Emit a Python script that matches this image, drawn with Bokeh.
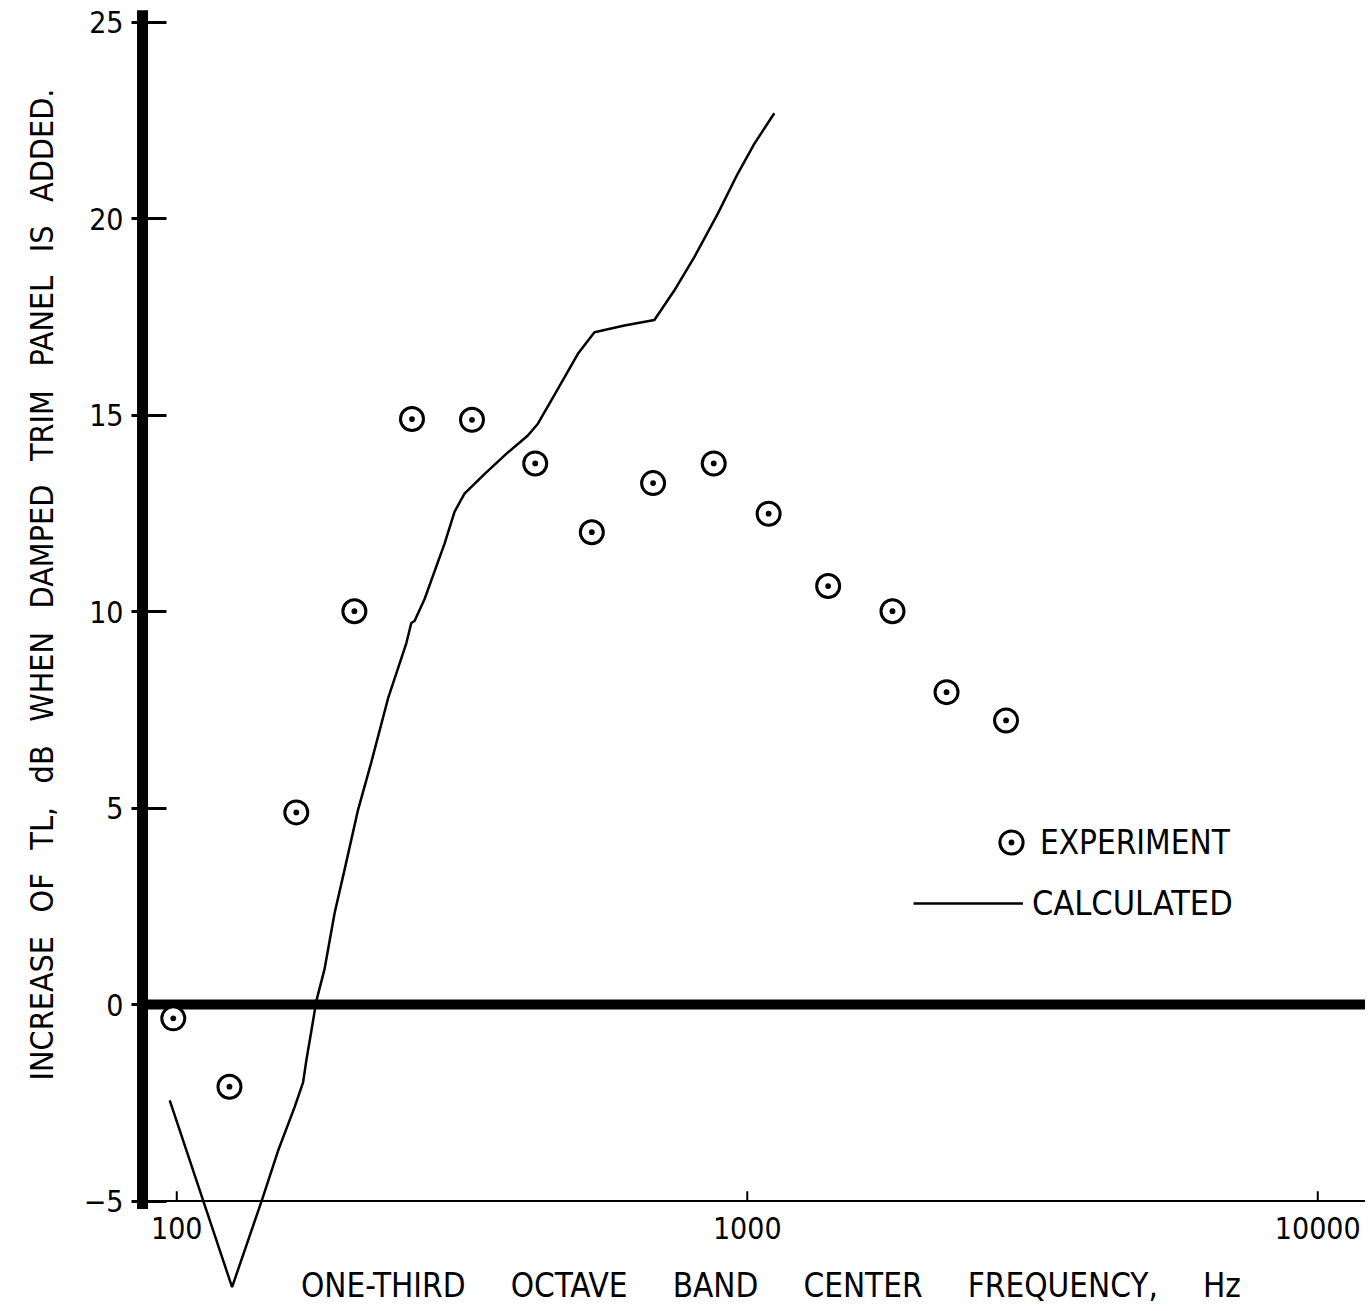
from bokeh.plotting import figure
from bokeh.models import Range1d, FixedTicker, Title, Label, Legend, LegendItem
from bokeh.embed import file_html
from bokeh.resources import INLINE
from bokeh.core.properties import value

# ---- data ----
exp_freq = [98.6, 123.7, 162.0, 204.8, 258.4, 329.2, 424.9, 534.0, 683.8,
            873.4, 1090, 1386, 1797, 2235, 2842]
exp_db = [-0.35, -2.09, 4.89, 10.01, 14.90, 14.88, 13.77, 12.02, 13.27,
          13.77, 12.49, 10.65, 10.01, 7.95, 7.23]

calc_freq = [97.2, 125.0, 141.3, 150.5, 160.9, 166.5, 168.7, 172.2, 175.7,
             181.6, 189.1, 196.9, 207.8, 219.3, 234.6, 252.6, 257.7, 261.1,
             271.9, 294.7, 306.8, 319.4, 346.2, 380.5, 412.5, 429.5, 453.2,
             478.2, 504.8, 539.7, 609.0, 687.4, 744.8, 807.5, 887.5, 962.0,
             1028.6, 1115.2]
calc_db = [-2.44, -7.19, -4.94, -3.72, -2.61, -1.98, -1.42, -0.66, 0.10,
           0.91, 2.33, 3.44, 4.95, 6.17, 7.79, 9.20, 9.71, 9.76,
           10.32, 11.73, 12.54, 13.00, 13.50, 14.05, 14.48, 14.78, 15.37,
           15.96, 16.56, 17.11, 17.28, 17.42, 18.17, 19.02, 20.12, 21.14,
           21.90, 22.68]

x_ticks = [100, 1000, 10000]
x_tick_labels = ["100", "1000", "10000"]
y_ticks = [-5, 0, 5, 10, 15, 20, 25]

y_words = ["INCREASE", "OF", "TL,", "dB", "WHEN", "DAMPED", "TRIM", "PANEL", "IS", "ADDED."]
x_words = ["ONE-THIRD", "OCTAVE", "BAND", "CENTER", "FREQUENCY,", "Hz"]
legend_labels = ["EXPERIMENT", "CALCULATED"]

# ---- style / layout ----
FONT = "DejaVu Sans Condensed"
AXIS_F = 87.1        # frequency where the heavy vertical axis is drawn
RIGHT_F = 12100      # right end of the horizontal lines
Y_BOTTOM_AXIS = -5

p = figure(width=1372, height=1311, x_axis_type="log",
           x_range=Range1d(83.3, 12472), y_range=Range1d(-7.81, 25.55),
           x_axis_location=None, output_backend="svg", toolbar_location=None,
           min_border_left=130, min_border_right=0, min_border_top=0,
           min_border_bottom=0, background_fill_color="white",
           border_fill_color="white")
p.outline_line_color = None
p.grid.visible = False

ax = p.yaxis[0]
ax.ticker = FixedTicker(ticks=y_ticks)
ax.axis_line_color = None
ax.major_tick_in = 35
ax.major_tick_out = 0
ax.major_tick_line_width = 3
ax.minor_tick_line_color = None
ax.major_label_standoff = 8
ax.major_label_text_font = FONT
ax.major_label_text_font_size = "30px"
ax.major_label_text_color = "black"

# heavy vertical axis line, heavy zero line, thin -5 baseline
p.segment(x0=[AXIS_F], y0=[-5.2], x1=[AXIS_F], y1=[25.3], line_width=11, line_color="black")
p.segment(x0=[AXIS_F], y0=[0], x1=[RIGHT_F], y1=[0], line_width=10, line_color="black")
p.segment(x0=[AXIS_F], y0=[Y_BOTTOM_AXIS], x1=[RIGHT_F], y1=[Y_BOTTOM_AXIS], line_width=2, line_color="black")
p.segment(x0=x_ticks, y0=[Y_BOTTOM_AXIS] * len(x_ticks), x1=x_ticks,
          y1=[Y_BOTTOM_AXIS + 0.25] * len(x_ticks), line_width=2, line_color="black")
p.text(x=x_ticks, y=[Y_BOTTOM_AXIS] * len(x_ticks), text=x_tick_labels, y_offset=27,
       text_align="center", text_baseline="middle", text_font=value(FONT),
       text_font_size="30px", text_color="black")

r_calc = p.line(calc_freq, calc_db, line_width=2.5, line_color="black")
r_exp = p.scatter(exp_freq, exp_db, marker="circle_dot", size=23, line_width=3,
                  line_color="black", fill_color="white")

leg1 = Legend(items=[LegendItem(label=legend_labels[0], renderers=[r_exp])],
              location=(851, 440), glyph_width=58, glyph_height=58, label_standoff=-4,
              padding=0, margin=0, border_line_color=None, background_fill_alpha=0,
              label_text_font=FONT, label_text_font_size="33px", label_text_color="black")
leg2 = Legend(items=[LegendItem(label=legend_labels[1], renderers=[r_calc])],
              location=(782, 388), glyph_width=110, glyph_height=30, label_standoff=9,
              padding=0, margin=0, border_line_color=None, background_fill_alpha=0,
              label_text_font=FONT, label_text_font_size="34px", label_text_color="black")
p.add_layout(leg1, "center")
p.add_layout(leg2, "center")

xlab = Label(x=1100, y=-7.15, text=" \u2003\u2009".join(x_words), text_align="center",
             text_baseline="middle", text_font=FONT, text_font_size="33px",
             text_color="black")
p.add_layout(xlab)

ylab = Title(text=" \u2002".join(y_words), align="right", offset=88,
             text_font=FONT, text_font_size="32px", text_font_style="normal",
             text_color="black", standoff=40)
p.add_layout(ylab, "left")

open("out.html", "w").write(file_html(p, INLINE))
